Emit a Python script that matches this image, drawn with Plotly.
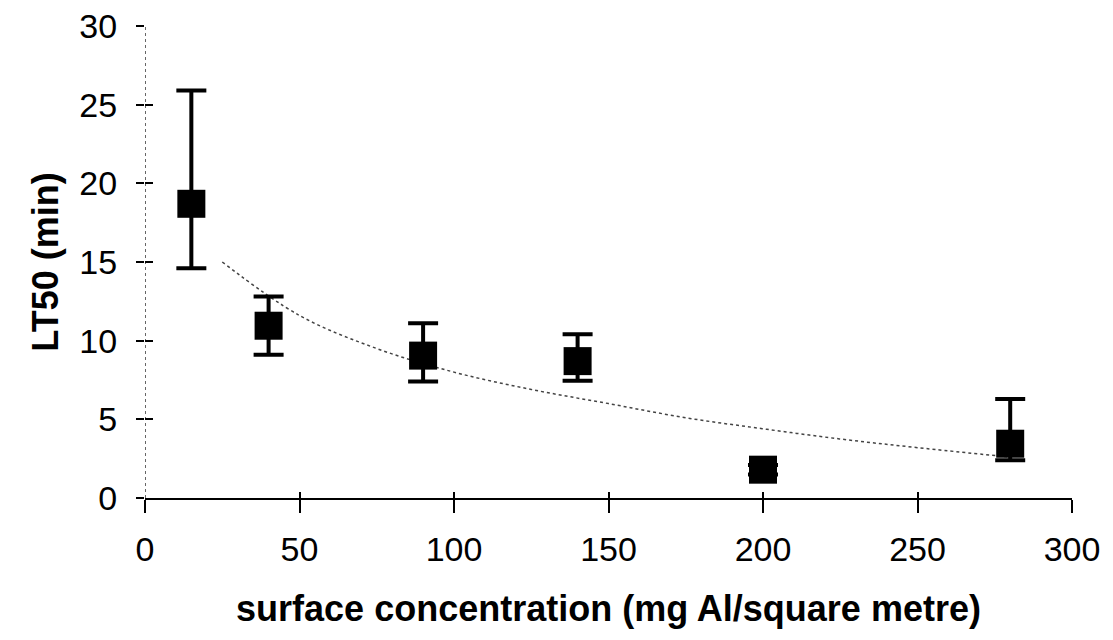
import plotly.graph_objects as go

# Data
conc = [15, 40, 90, 140, 200, 280]
lt50 = [18.7, 10.95, 9.05, 8.7, 1.8, 3.45]
err_plus = [7.2, 1.85, 2.05, 1.7, 0.3, 2.85]
err_minus = [4.1, 1.85, 1.65, 1.25, 0.3, 1.05]

trend_x = [25, 50, 75, 100, 125, 150, 175, 200, 225, 250, 280]
trend_y = [15.0, 11.6, 9.5, 8.0, 6.9, 6.0, 5.1, 4.4, 3.75, 3.2, 2.6]

x_ticks = [0, 50, 100, 150, 200, 250, 300]
y_ticks = [0, 5, 10, 15, 20, 25, 30]

FONT = "Liberation Sans, Arial, sans-serif"

fig = go.Figure()

fig.add_trace(go.Scatter(
    x=trend_x, y=trend_y, mode="lines",
    line=dict(color="#444", width=1.5, dash="dot", shape="spline"),
    hoverinfo="skip", showlegend=False))

fig.add_trace(go.Scatter(
    x=conc, y=lt50, mode="markers",
    marker=dict(symbol="square", size=28, color="black"),
    error_y=dict(type="data", symmetric=False, array=err_plus, arrayminus=err_minus,
                 color="black", thickness=4, width=15),
    showlegend=False))

# invisible trace to hold the overlay axes (inside tick halves)
fig.add_trace(go.Scatter(x=[0], y=[0], xaxis="x2", yaxis="y2", mode="markers",
                         marker=dict(opacity=0), hoverinfo="skip", showlegend=False))

# Dotted y axis line
fig.add_shape(type="line", xref="x", yref="y", x0=0, x1=0, y0=0, y1=30,
              line=dict(color="black", width=1.2, dash="dot"))

fig.update_layout(
    width=1113, height=640,
    margin=dict(l=137, r=49, t=18, b=150),
    plot_bgcolor="white", paper_bgcolor="white",
    font=dict(family=FONT, color="black"),
    xaxis=dict(range=[0, 300], tickvals=x_ticks, showgrid=False, zeroline=False,
               automargin=False, ticklabeloverflow="allow",
               showline=True, linecolor="black", linewidth=2,
               ticks="outside", ticklen=13, tickwidth=1.5, tickcolor="black",
               ticklabelstandoff=7,
               tickfont=dict(size=34, family=FONT),
               title=dict(text="<b>surface concentration (mg Al/square metre)</b>",
                          font=dict(size=36, family=FONT), standoff=29)),
    yaxis=dict(range=[0, 30], tickvals=y_ticks, showgrid=False, zeroline=False,
               automargin=False, ticklabeloverflow="allow",
               showline=False,
               ticks="outside", ticklen=8, tickwidth=1.5, tickcolor="black",
               ticklabelstandoff=12,
               tickfont=dict(size=34, family=FONT),
               title=dict(text="<b>LT50 (min)</b>", font=dict(size=36, family=FONT), standoff=9)),
    xaxis2=dict(overlaying="x", matches="x", range=[0, 300], tickvals=x_ticks,
                showgrid=False, zeroline=False, showline=False, showticklabels=False,
                ticks="inside", ticklen=6, tickwidth=1.5, tickcolor="black", automargin=False),
    yaxis2=dict(overlaying="y", matches="y", range=[0, 30], tickvals=y_ticks,
                showgrid=False, zeroline=False, showline=False, showticklabels=False,
                ticks="inside", ticklen=8, tickwidth=1.5, tickcolor="black", automargin=False),
)

fig.write_html("out.html")
